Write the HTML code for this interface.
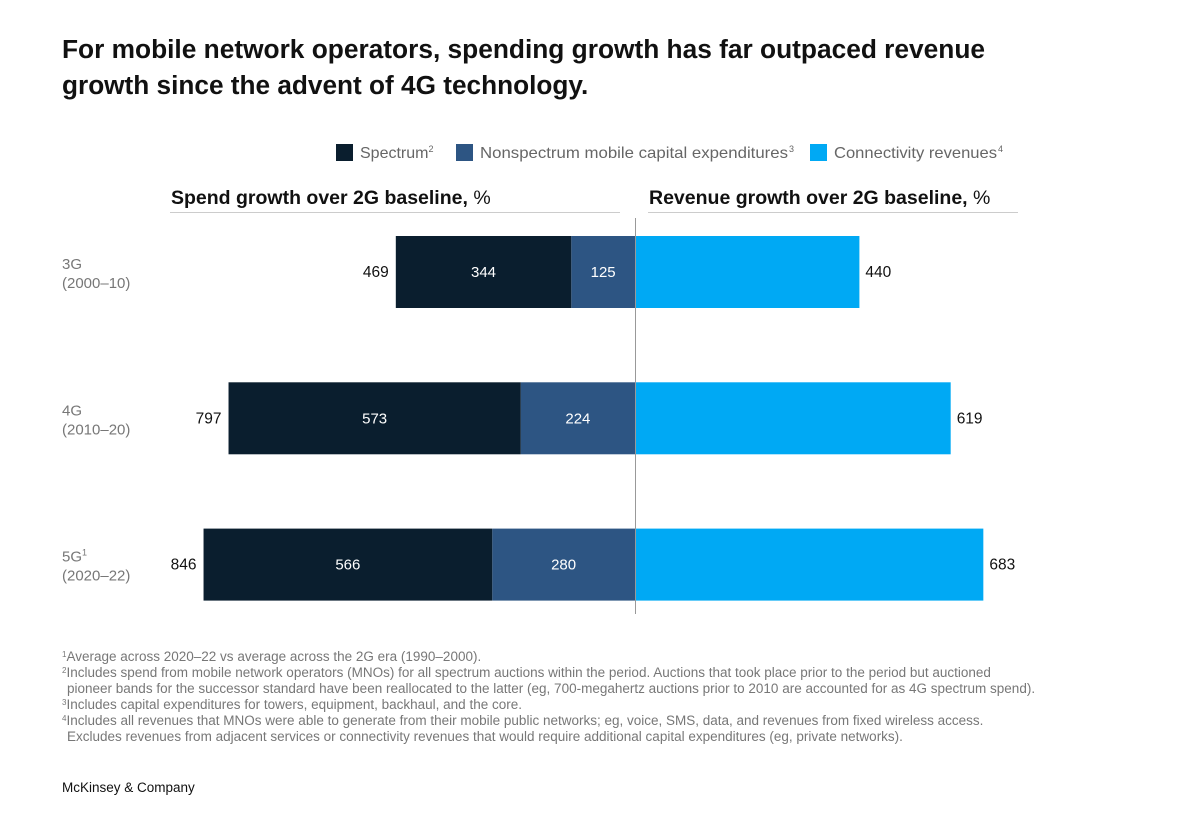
<!DOCTYPE html>
<html><head><meta charset="utf-8">
<style>
body{margin:0;background:#fff;width:1191px;height:811px;overflow:hidden;font-family:"Liberation Sans",sans-serif;}
svg text{font-family:"Liberation Sans",sans-serif;}
</style></head>
<body>
<svg id="chart" width="1191" height="811" viewBox="0 0 1191 811" xmlns="http://www.w3.org/2000/svg">
<text x="62" y="58" font-size="26.2" font-weight="bold" fill="#111" textLength="923" lengthAdjust="spacingAndGlyphs">For mobile network operators, spending growth has far outpaced revenue</text>
<text x="62" y="94" font-size="26.2" font-weight="bold" fill="#111">growth since the advent of 4G technology.</text>
<g font-size="16" fill="#666">
<rect x="336" y="144" width="17" height="17" fill="#0a1e2e"/>
<text x="360" y="158">Spectrum<tspan font-size="9" dy="-6">2</tspan></text>
<rect x="456" y="144" width="17" height="17" fill="#2d5583"/>
<text x="480" y="158" textLength="308" lengthAdjust="spacingAndGlyphs">Nonspectrum mobile capital expenditures</text>
<text x="789" y="152" font-size="9">3</text>
<rect x="810" y="144" width="17" height="17" fill="#00a9f4"/>
<text x="834" y="158" textLength="163" lengthAdjust="spacingAndGlyphs">Connectivity revenues</text>
<text x="998" y="152" font-size="9">4</text>
</g>
<text x="171" y="204" font-size="19.5" font-weight="bold" fill="#111">Spend growth over 2G baseline, <tspan font-weight="normal">%</tspan></text>
<line x1="170" y1="212.5" x2="620" y2="212.5" stroke="#ccc" stroke-width="1"/>
<text x="649" y="204" font-size="19.5" font-weight="bold" fill="#111">Revenue growth over 2G baseline, <tspan font-weight="normal">%</tspan></text>
<line x1="648" y1="212.5" x2="1018" y2="212.5" stroke="#ccc" stroke-width="1"/>
<g id="bars"></g>
<line x1="635.5" y1="218" x2="635.5" y2="614" stroke="#999" stroke-width="1"/>
<g font-size="13.5" fill="#777">
<text x="62" y="661"><tspan font-size="8" dy="-4">1</tspan><tspan dy="4">Average across 2020–22 vs average across the 2G era (1990–2000).</tspan></text>
<text x="62" y="677"><tspan font-size="8" dy="-4">2</tspan><tspan dy="4">Includes spend from mobile network operators (MNOs) for all spectrum auctions within the period. Auctions that took place prior to the period but auctioned</tspan></text>
<text x="67" y="693">pioneer bands for the successor standard have been reallocated to the latter (eg, 700-megahertz auctions prior to 2010 are accounted for as 4G spectrum spend).</text>
<text x="62" y="709"><tspan font-size="8" dy="-4">3</tspan><tspan dy="4">Includes capital expenditures for towers, equipment, backhaul, and the core.</tspan></text>
<text x="62" y="725"><tspan font-size="8" dy="-4">4</tspan><tspan dy="4">Includes all revenues that MNOs were able to generate from their mobile public networks; eg, voice, SMS, data, and revenues from fixed wireless access.</tspan></text>
<text x="67" y="741">Excludes revenues from adjacent services or connectivity revenues that would require additional capital expenditures (eg, private networks).</text>
</g>
<text x="62" y="792" font-size="13.5" fill="#111">McKinsey &amp; Company</text>
</svg>
<script>
const categories=["3G","4G","5G"];
const periods=["(2000–10)","(2010–20)","(2020–22)"];
const spectrum=[344,573,566];
const nonspectrum=[125,224,280];
const spendTotal=[469,797,846];
const revenue=[440,619,683];
const superscripts=["","","1"];

const NS="http://www.w3.org/2000/svg";
const g=document.getElementById('bars');
const center=635, k=0.51;
const xLeft=v=>center-v*k;
const xRight=v=>center+v*k;
const rowY=i=>236+i*146.3;
const barH=72;
function el(tag,attrs,text){const e=document.createElementNS(NS,tag);for(const a in attrs)e.setAttribute(a,attrs[a]);if(text!==undefined)e.textContent=text;g.appendChild(e);return e;}
categories.forEach((c,i)=>{
  const y=rowY(i), cy=y+barH/2+5;
  const lab=el('text',{x:62,y:y+barH/2-3,'font-size':15,fill:'#777'},c);
  
  
  if(superscripts[i]){const t=document.createElementNS(NS,'tspan');t.setAttribute('font-size','9');t.setAttribute('dy','-6');t.textContent=superscripts[i];lab.appendChild(t);}
  const per=el('text',{x:62,y:y+barH/2+16,'font-size':15,fill:'#777'},periods[i]);
  
  
  const nsW=nonspectrum[i]*k, spW=spectrum[i]*k;
  const b2=el('rect',{x:center-nsW,y:y,width:nsW,height:barH,fill:'#2d5583'});
  
  
  const b1=el('rect',{x:center-nsW-spW,y:y,width:spW,height:barH,fill:'#0a1e2e'});
  
  
  const t1=el('text',{x:center-nsW-spW/2,y:cy,'font-size':15,fill:'#fff','text-anchor':'middle'},spectrum[i]);
  
  
  const t2=el('text',{x:center-nsW/2,y:cy,'font-size':15,fill:'#fff','text-anchor':'middle'},nonspectrum[i]);
  
  
  const t3=el('text',{x:xLeft(spendTotal[i])-7,y:cy,'font-size':15.5,fill:'#111','text-anchor':'end'},spendTotal[i]);
  
  
  const b3=el('rect',{x:center+1,y:y,width:xRight(revenue[i])-center-1,height:barH,fill:'#00a9f4'});
  
  
  const t4=el('text',{x:xRight(revenue[i])+6,y:cy,'font-size':15.5,fill:'#111'},revenue[i]);
  
  
});
</script>
</body></html>
